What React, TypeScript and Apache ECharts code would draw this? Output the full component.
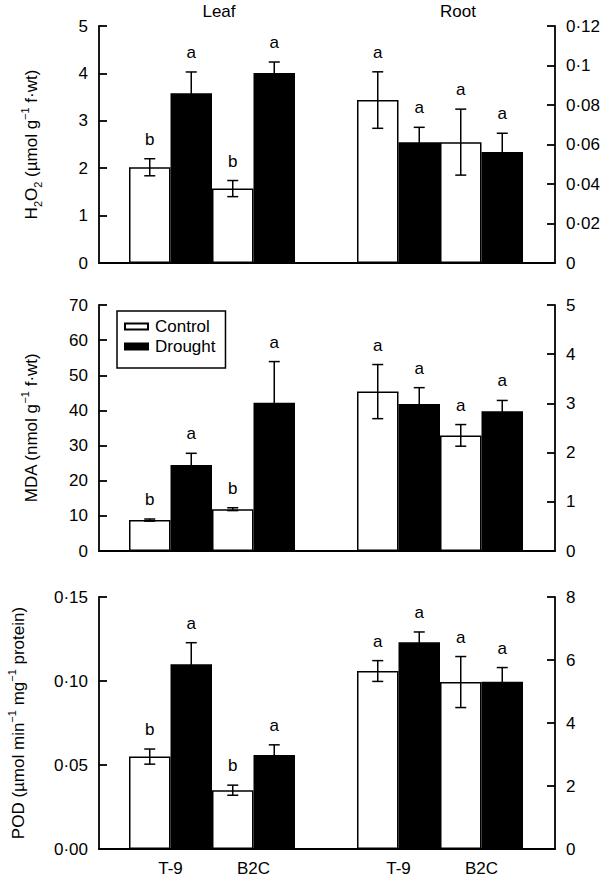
import React, { useEffect, useRef } from 'react';
import * as echarts from 'echarts';

const FONT = "'Liberation Sans', Arial, Helvetica, sans-serif";

const groups = ['T-9', 'B2C'];
const seriesNames = ['Control', 'Drought'];

// Panel 1: H2O2
const h2o2LeafControl = [2.02, 1.57];
const h2o2LeafControlErr = [0.18, 0.17];
const h2o2LeafDrought = [3.58, 4.01];
const h2o2LeafDroughtErr = [0.45, 0.23];
const h2o2LeafControlLetters = ['b', 'b'];
const h2o2LeafDroughtLetters = ['a', 'a'];
const h2o2RootControl = [0.0825, 0.0612];
const h2o2RootControlErr = [0.0143, 0.0167];
const h2o2RootDrought = [0.0611, 0.0562];
const h2o2RootDroughtErr = [0.0076, 0.0095];
const h2o2RootControlLetters = ['a', 'a'];
const h2o2RootDroughtLetters = ['a', 'a'];

// Panel 2: MDA
const mdaLeafControl = [8.8, 11.9];
const mdaLeafControlErr = [0.3, 0.4];
const mdaLeafDrought = [24.5, 42.2];
const mdaLeafDroughtErr = [3.3, 11.7];
const mdaLeafControlLetters = ['b', 'b'];
const mdaLeafDroughtLetters = ['a', 'a'];
const mdaRootControl = [3.24, 2.35];
const mdaRootControlErr = [0.55, 0.22];
const mdaRootDrought = [2.99, 2.84];
const mdaRootDroughtErr = [0.33, 0.22];
const mdaRootControlLetters = ['a', 'a'];
const mdaRootDroughtLetters = ['a', 'a'];

// Panel 3: POD
const podLeafControl = [0.055, 0.035];
const podLeafControlErr = [0.0045, 0.003];
const podLeafDrought = [0.11, 0.056];
const podLeafDroughtErr = [0.0128, 0.006];
const podLeafControlLetters = ['b', 'b'];
const podLeafDroughtLetters = ['a', 'a'];
const podRootControl = [5.65, 5.3];
const podRootControlErr = [0.33, 0.81];
const podRootDrought = [6.56, 5.31];
const podRootDroughtErr = [0.33, 0.45];
const podRootControlLetters = ['a', 'a'];
const podRootDroughtLetters = ['a', 'a'];

const dot = (s: string) => s.replace('.', '\u00b7');

type Part = {
  control: number[]; controlErr: number[]; drought: number[]; droughtErr: number[];
  controlLetters: string[]; droughtLetters: string[];
};
type Panel = {
  top: number; height: number;
  leftMax: number; leftInterval: number; leftFmt: (v: number) => string;
  rightMax: number; rightInterval: number; rightFmt: (v: number) => string;
  leaf: Part; root: Part; name: string; nameX: number;
};

const panels: Panel[] = [
  {
    top: 26, height: 237,
    leftMax: 5, leftInterval: 1, leftFmt: (v) => String(v),
    rightMax: 0.12, rightInterval: 0.02, rightFmt: (v) => (v === 0 ? '0' : dot(String(+v.toFixed(2)))),
    leaf: { control: h2o2LeafControl, controlErr: h2o2LeafControlErr, drought: h2o2LeafDrought, droughtErr: h2o2LeafDroughtErr, controlLetters: h2o2LeafControlLetters, droughtLetters: h2o2LeafDroughtLetters },
    root: { control: h2o2RootControl, controlErr: h2o2RootControlErr, drought: h2o2RootDrought, droughtErr: h2o2RootDroughtErr, controlLetters: h2o2RootControlLetters, droughtLetters: h2o2RootDroughtLetters },
    name: '{n|H}{sub|2}{n|O}{sub|2}{n| (\u00b5mol g}{sup|\u22121}{n| f\u00b7wt)}',
    nameX: 31,
  },
  {
    top: 305, height: 246,
    leftMax: 70, leftInterval: 10, leftFmt: (v) => String(v),
    rightMax: 5, rightInterval: 1, rightFmt: (v) => String(v),
    leaf: { control: mdaLeafControl, controlErr: mdaLeafControlErr, drought: mdaLeafDrought, droughtErr: mdaLeafDroughtErr, controlLetters: mdaLeafControlLetters, droughtLetters: mdaLeafDroughtLetters },
    root: { control: mdaRootControl, controlErr: mdaRootControlErr, drought: mdaRootDrought, droughtErr: mdaRootDroughtErr, controlLetters: mdaRootControlLetters, droughtLetters: mdaRootDroughtLetters },
    name: '{n|MDA (nmol g}{sup|\u22121}{n| f\u00b7wt)}',
    nameX: 31,
  },
  {
    top: 597, height: 252,
    leftMax: 0.15, leftInterval: 0.05, leftFmt: (v) => dot(v.toFixed(2)),
    rightMax: 8, rightInterval: 2, rightFmt: (v) => String(v),
    leaf: { control: podLeafControl, controlErr: podLeafControlErr, drought: podLeafDrought, droughtErr: podLeafDroughtErr, controlLetters: podLeafControlLetters, droughtLetters: podLeafDroughtLetters },
    root: { control: podRootControl, controlErr: podRootControlErr, drought: podRootDrought, droughtErr: podRootDroughtErr, controlLetters: podRootControlLetters, droughtLetters: podRootDroughtLetters },
    name: '{n|POD (\u00b5mol min}{sup|\u22121}{n| mg}{sup|\u22121}{n| protein)}',
    nameX: 18,
  },
];

const AXIS_W = 1.8;
const BAR_BORDER = 1.5;
const ERR_W = 1.5;
const CAP = 5.5;
const FS = 17;

function buildOption() {
  const grid: any[] = [];
  const xAxis: any[] = [];
  const yAxis: any[] = [];
  const series: any[] = [];
  const graphic: any[] = [];

  const richStyles = {
    n: { fontSize: FS, fontFamily: FONT, fill: '#000', lineHeight: 24 },
    sub: { fontSize: 11, fontFamily: FONT, fill: '#000', verticalAlign: 'bottom', lineHeight: 24 },
    sup: { fontSize: 11, fontFamily: FONT, fill: '#000', verticalAlign: 'top' },
  };

  panels.forEach((p, pi) => {
    const g0 = grid.length;
    grid.push({ left: 99, right: 52, top: p.top, height: p.height });
    grid.push({ left: 129, width: 166, top: p.top, height: p.height });
    grid.push({ left: 357, width: 166, top: p.top, height: p.height });

    xAxis.push({
      gridIndex: g0, type: 'value', min: 0, max: 1,
      axisLine: { show: true, onZero: false, lineStyle: { color: '#000', width: AXIS_W } },
      axisTick: { show: false }, axisLabel: { show: false }, splitLine: { show: false },
    });
    for (let k = 1; k <= 2; k++) {
      xAxis.push({
        gridIndex: g0 + k, type: 'category', data: groups,
        axisLine: { show: false }, axisTick: { show: false }, splitLine: { show: false },
        axisLabel: { show: pi === panels.length - 1, color: '#000', fontSize: FS, fontFamily: FONT, margin: 11 },
      });
    }

    const y0 = yAxis.length;
    const valAxis = (pos: string, max: number, interval: number, fmt: (v: number) => string) => ({
      gridIndex: g0, type: 'value', position: pos, min: 0, max, interval,
      axisLine: { show: true, onZero: false, lineStyle: { color: '#000', width: AXIS_W } },
      axisTick: { show: true, inside: true, length: 8, lineStyle: { color: '#000', width: AXIS_W } },
      axisLabel: { color: '#000', fontSize: FS, fontFamily: FONT, margin: 11, formatter: fmt },
      splitLine: { show: false },
    });
    yAxis.push(valAxis('left', p.leftMax, p.leftInterval, p.leftFmt));
    yAxis.push(valAxis('right', p.rightMax, p.rightInterval, p.rightFmt));
    yAxis.push({ gridIndex: g0 + 1, type: 'value', min: 0, max: p.leftMax, show: false });
    yAxis.push({ gridIndex: g0 + 2, type: 'value', min: 0, max: p.rightMax, show: false });

    const parts: [Part, number, number][] = [
      [p.leaf, g0 + 1, y0 + 2],
      [p.root, g0 + 2, y0 + 3],
    ];
    parts.forEach(([part, xi, yi]) => {
      series.push({
        type: 'bar', name: seriesNames[0], xAxisIndex: xi, yAxisIndex: yi,
        data: part.control, barGap: '0%', barCategoryGap: '0%',
        itemStyle: { color: '#fff', borderColor: '#000', borderWidth: BAR_BORDER },
        emphasis: { disabled: true },
      });
      series.push({
        type: 'bar', name: seriesNames[1], xAxisIndex: xi, yAxisIndex: yi,
        data: part.drought, barGap: '0%', barCategoryGap: '0%',
        itemStyle: { color: '#000', borderColor: '#000', borderWidth: BAR_BORDER },
        emphasis: { disabled: true },
      });
      const errData: number[][] = [];
      const letters: string[] = [];
      groups.forEach((_, i) => {
        errData.push([i, part.control[i], part.controlErr[i], 0]);
        letters.push(part.controlLetters[i]);
        errData.push([i, part.drought[i], part.droughtErr[i], 1]);
        letters.push(part.droughtLetters[i]);
      });
      series.push({
        type: 'custom', xAxisIndex: xi, yAxisIndex: yi, silent: true, z: 10,
        data: errData, encode: { x: 0, y: 1 },
        renderItem: (params: any, api: any) => {
          const cat = api.value(0);
          const mean = api.value(1);
          const err = api.value(2);
          const side = api.value(3);
          const band = api.size([1, 0])[0];
          const xc = api.coord([cat, 0])[0] + (side === 0 ? -band / 4 : band / 4);
          const yHi = api.coord([cat, mean + err])[1];
          const yLo = api.coord([cat, mean - err])[1];
          const ls = { stroke: '#000', lineWidth: ERR_W };
          return {
            type: 'group',
            children: [
              { type: 'line', shape: { x1: xc, y1: yHi, x2: xc, y2: yLo }, style: ls },
              { type: 'line', shape: { x1: xc - CAP, y1: yHi, x2: xc + CAP, y2: yHi }, style: ls },
              { type: 'line', shape: { x1: xc - CAP, y1: yLo, x2: xc + CAP, y2: yLo }, style: ls },
              {
                type: 'text', x: xc, y: yHi - 11,
                style: { text: letters[params.dataIndex], fill: '#000', fontSize: FS, fontFamily: FONT, align: 'center', verticalAlign: 'bottom' },
              },
            ],
          };
        },
      });
    });

    graphic.push({
      type: 'text', x: p.nameX, y: p.top + p.height / 2, rotation: Math.PI / 2,
      style: { text: p.name, rich: richStyles, align: 'center', verticalAlign: 'middle', fontSize: FS, fontFamily: FONT, fill: '#000' },
    });
  });

  graphic.push({ type: 'text', x: 219, y: 11, style: { text: 'Leaf', fontSize: FS, fontFamily: FONT, fill: '#000', align: 'center', verticalAlign: 'middle' } });
  graphic.push({ type: 'text', x: 458, y: 11, style: { text: 'Root', fontSize: FS, fontFamily: FONT, fill: '#000', align: 'center', verticalAlign: 'middle' } });

  return {
    animation: false,
    backgroundColor: '#fff',
    textStyle: { fontFamily: FONT, color: '#000' },
    grid, xAxis, yAxis, series, graphic,
    legend: {
      data: seriesNames, orient: 'vertical', left: 117, top: 311,
      itemWidth: 23, itemHeight: 6, itemGap: 3, padding: [7, 10, 13, 7],
      borderColor: '#000', borderWidth: 1.5, backgroundColor: '#fff',
      icon: 'rect', selectedMode: false, z: 20,
      textStyle: { color: '#000', fontSize: FS, fontFamily: FONT, padding: [0, 0, 0, 2] },
    },
  };
}

export default function App() {
  const ref = useRef<HTMLDivElement>(null);
  useEffect(() => {
    if (!ref.current) return;
    const chart = echarts.init(ref.current, undefined, { renderer: 'svg' });
    chart.setOption(buildOption() as any);
    return () => chart.dispose();
  }, []);
  return <div ref={ref} style={{ position: 'absolute', left: 0, top: 0, width: 607, height: 880 }} />;
}
